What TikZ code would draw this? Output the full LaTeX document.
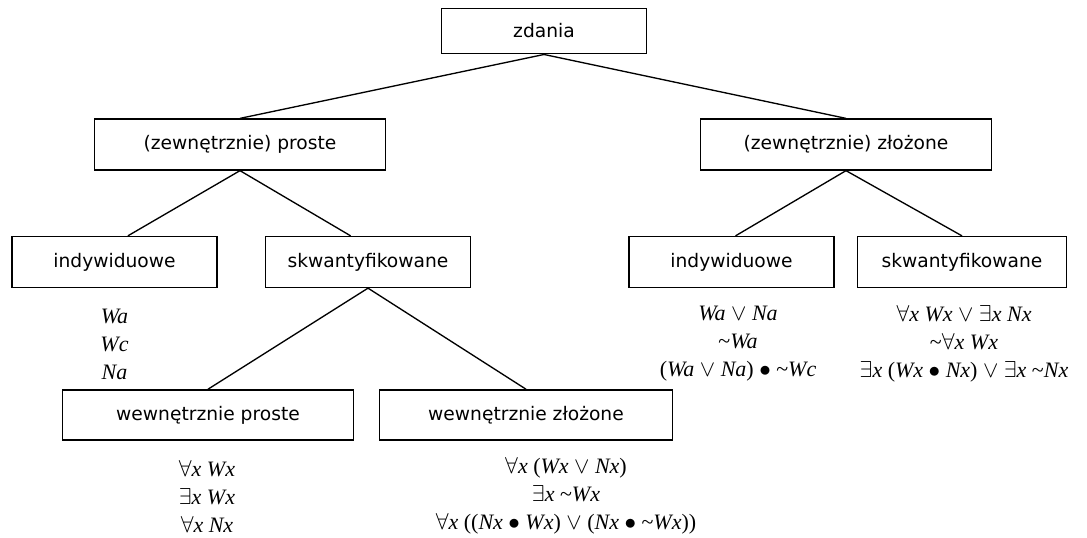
\documentclass[tikz,border=0pt]{standalone}
\usepackage{fontspec}
\setmainfont{Liberation Serif}
\newfontfamily\boxfont{DejaVu Sans}

\newcommand{\fa}{\ensuremath{\forall}}
\newcommand{\ex}{\ensuremath{\exists}}
\newcommand{\vel}{\ensuremath{\vee}}
\newcommand{\et}{\ensuremath{\bullet}}
\newcommand{\nie}{\textup{\textasciitilde}}
\newcommand{\lp}{\textup{(}}
\newcommand{\rp}{\textup{)}}

\tikzset{
  kind/.style={draw, line width=1.2pt, inner sep=0pt, font=\boxfont\fontsize{14}{16}\selectfont},
  small/.style={kind, minimum width=154pt, minimum height=38pt},
  wide/.style={kind, minimum width=218pt, minimum height=38pt},
  formulas/.style={align=center, inner sep=0pt, font=\itshape\fontsize{16.5}{21}\selectfont},
  edge/.style={line width=1pt}
}

\begin{document}
\begin{tikzpicture}[x=0.75pt,y=-0.75pt]
			\useasboundingbox (0,0) rectangle (1087,537);
			
			% Boxes
			\node[small, minimum height=34pt] (zdania) at (544,31) {zdania};
			\node[wide] (prosteZ) at (240,144.5) {(zewnętrznie) proste};
			\node[wide] (zlozoneZ) at (846,144.5) {(zewnętrznie) złożone};
			\node[small] (indL) at (114.5,262) {indywiduowe};
			\node[small] (skwL) at (368,262) {skwantyfikowane};
			\node[small] (indR) at (731.5,262) {indywiduowe};
			\node[small, minimum width=157pt] (skwR) at (962,262) {skwantyfikowane};
			\node[wide, minimum height=37.5pt] (prosteW) at (208,415) {wewnętrznie proste};
			\node[wide, minimum width=220pt, minimum height=37.5pt] (zlozoneW) at (526,415) {wewnętrznie złożone};
			
			% Connectors
			\draw[edge] (zdania.south) -- (prosteZ.north);
			\draw[edge] (zdania.south) -- (zlozoneZ.north);
			\draw[edge] (prosteZ.south) -- ([xshift=10pt]indL.north);
			\draw[edge] (prosteZ.south) -- ([xshift=-13pt]skwL.north);
			\draw[edge] (zlozoneZ.south) -- ([xshift=3pt]indR.north);
			\draw[edge] (zlozoneZ.south) -- (skwR.north);
			\draw[edge] (skwL.south) -- (prosteW.north);
			\draw[edge] (skwL.south) -- (zlozoneW.north);
			
			% Examples
			\node[formulas] (exIndL) at (114.5,344) {Wa\\ Wc\\ Na};
			\node[formulas] (exIndR) at (738,344) {Wa \vel{} Na\\ \nie Wa\\ \lp Wa \vel{} Na\rp{} \et{} \nie Wc};
			\node[formulas] (exSkwR) at (964,344) {\fa x Wx \vel{} \ex x Nx\\ \nie\fa x Wx\\ \ex x \lp Wx \et{} Nx\rp{} \vel{} \ex x \nie Nx};
			\node[formulas] (exProsteW) at (207,496) {\fa x Wx\\ \ex x Wx\\ \fa x Nx};
			\node[formulas] (exZlozoneW) at (566,496) {\fa x \lp Wx \vel{} Nx\rp\\ \ex x \nie Wx\\ \fa x \lp\lp Nx \et{} Wx\rp{} \vel{} \lp Nx \et{} \nie Wx\rp\rp};
		\end{tikzpicture}
\end{document}
